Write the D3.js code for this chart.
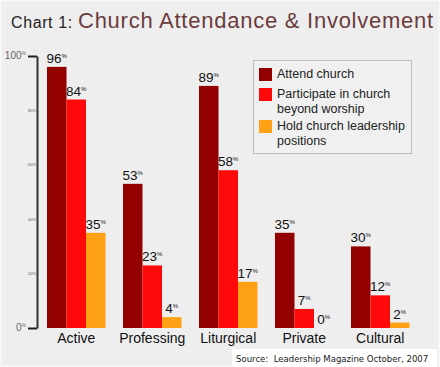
<!DOCTYPE html>
<html>
<head>
<meta charset="utf-8">
<script src="https://cdn.jsdelivr.net/npm/d3@7"></script>
<style>
  body { margin: 0; background: #eeeeee; }
  svg { display: block; font-family: Arial, "Liberation Sans", sans-serif; }
</style>
</head>
<body>
<svg id="chart" width="440" height="367"></svg>
<script>
// data
var categories = ["Active", "Professing", "Liturgical", "Private", "Cultural"];
var seriesNames = ["Attend church", "Participate in church beyond worship", "Hold church leadership positions"];
var attend = [96, 53, 89, 35, 30];
var participate = [84, 23, 58, 7, 12];
var leadership = [35, 4, 17, 0, 2];
var colors = ["#920000", "#ff0a0a", "#ffa114"];
var legendLines = [["Attend church"], ["Participate in church", "beyond worship"], ["Hold church leadership", "positions"]];
var minorTicks = [20, 40, 60, 80];

var values = [attend, participate, leadership];

var svg = d3.select("#chart");

// background + faint light rim
svg.append("rect")
    .attr("x", 0.5).attr("y", 0.5)
    .attr("width", 439).attr("height", 366)
    .attr("fill", "#eeeeee")
    .attr("stroke", "#f8f8f8")
    .attr("stroke-width", 2);

// title
svg.append("text")
    .attr("x", 11)
    .attr("y", 28)
    .attr("fill", "#222")
    .style("font-size", "16px")
    .style("letter-spacing", "0.6px")
    .text("Chart 1:");
svg.append("text")
    .attr("x", 78)
    .attr("y", 28)
    .attr("fill", "#6a3c3c")
    .style("font-size", "22px")
    .style("letter-spacing", "0.75px")
    .text("Church Attendance & Involvement");

// scales
var x0 = d3.scaleBand().domain(categories).range([47, 409.5]).paddingInner(0.23);
var x1 = d3.scaleBand().domain(d3.range(seriesNames.length)).range([0, x0.bandwidth()]);
var y = d3.scaleLinear().domain([0, 100]).range([328, 56]);

// axis
var axis = svg.append("g")
    .attr("transform", "translate(37,0)")
    .call(d3.axisLeft(y).tickValues([0, 100]).tickSizeInner(9).tickSizeOuter(0).tickFormat(""));
axis.select(".domain").attr("stroke", "#333").attr("stroke-width", 2);
axis.selectAll(".tick line").attr("stroke", "#222").attr("stroke-width", 2);

[0, 100].forEach(function (v) {
    var t = svg.append("text")
        .attr("x", 26)
        .attr("y", y(v) + 3)
        .attr("text-anchor", "end")
        .attr("fill", "#666")
        .style("font-size", "10px")
        .text(v);
    t.append("tspan").style("font-size", "5px").attr("dy", -4).text("%");
});

// tiny minor labels
svg.selectAll(".minor")
    .data(minorTicks)
    .enter().append("text")
    .attr("class", "minor")
    .attr("x", 36)
    .attr("y", function (d) { return y(d) + 1.5; })
    .attr("text-anchor", "end")
    .attr("fill", "#555")
    .style("font-size", "4px")
    .text(function (d) { return d + "%"; });

// bars
var groups = svg.selectAll(".group")
    .data(categories)
    .enter().append("g")
    .attr("class", "group")
    .attr("transform", function (d) { return "translate(" + x0(d) + ",0)"; });

var cells = groups.selectAll(".bar")
    .data(function (d, i) { return values.map(function (s, k) { return { k: k, v: s[i] }; }); })
    .enter();

cells.append("rect")
    .attr("class", "bar")
    .attr("x", function (d) { return x1(d.k); })
    .attr("y", function (d) { return y(d.v); })
    .attr("width", x1.bandwidth())
    .attr("height", function (d) { return y(0) - y(d.v); })
    .attr("fill", function (d) { return colors[d.k]; });

// value labels
var labels = cells.append("text")
    .attr("x", function (d) { return x1(d.k) + x1.bandwidth() / 2; })
    .attr("y", function (d) { return y(d.v) - 4; })
    .attr("text-anchor", "middle")
    .attr("fill", "#111")
    .style("font-size", "13.5px")
    .text(function (d) { return d.v; });
labels.append("tspan")
    .style("font-size", "6px")
    .attr("dy", -5)
    .text("%");

// category labels
svg.selectAll(".cat")
    .data(categories)
    .enter().append("text")
    .attr("class", "cat")
    .attr("x", function (d) { return x0(d) + x0.bandwidth() / 2; })
    .attr("y", 343)
    .attr("text-anchor", "middle")
    .attr("fill", "#111")
    .style("font-size", "14px")
    .text(function (d) { return d; });

// legend
var legend = svg.append("g");
legend.append("rect")
    .attr("x", 253.5).attr("y", 60.5)
    .attr("width", 158).attr("height", 93)
    .attr("fill", "#f0f0f0")
    .attr("stroke", "#bdbdbd");

var legendY = [68, 88, 120];
legendLines.forEach(function (lines, i) {
    legend.append("rect")
        .attr("x", 259).attr("y", legendY[i])
        .attr("width", 13).attr("height", 13)
        .attr("fill", colors[i]);
    lines.forEach(function (line, j) {
        legend.append("text")
            .attr("x", 277)
            .attr("y", legendY[i] + 10 + j * 15)
            .attr("fill", "#222")
            .style("font-size", "12.5px")
            .text(line);
    });
});

// source
svg.append("rect")
    .attr("x", 232).attr("y", 349)
    .attr("width", 205).attr("height", 18)
    .attr("fill", "#ffffff");
svg.append("text")
    .attr("x", 236)
    .attr("y", 362)
    .attr("fill", "#222")
    .style("font-family", "'Liberation Sans Narrow', 'DejaVu Sans Condensed', sans-serif")
    .style("font-size", "9.5px")
    .attr("xml:space", "preserve")
    .text("Source:  Leadership Magazine October, 2007");
</script>
</body>
</html>
